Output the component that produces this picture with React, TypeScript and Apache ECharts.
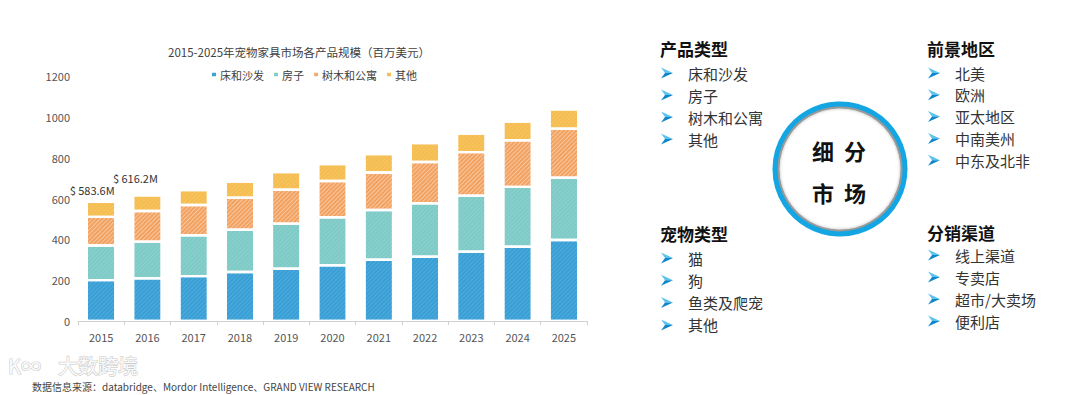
import React, { useEffect, useRef } from "react";
import * as echarts from "echarts";

const years = ["2015", "2016", "2017", "2018", "2019", "2020", "2021", "2022", "2023", "2024", "2025"];
const seriesNames = ["床和沙发", "房子", "树木和公寓", "其他"];
const bedSofa = [200, 209, 220, 240, 256, 273, 300, 315, 340, 364, 397];
const houses = [170, 180, 200, 207, 221, 235, 244, 262, 274, 293, 305];
const treesCondos = [140, 150, 148, 157, 166, 178, 183, 202, 213, 228, 240];
const others = [73.6, 77.2, 74, 79, 87, 83, 91, 93, 91, 92, 95];
const totalLabels = ["$ 583.6M", "$ 616.2M"];
const yTicks = [0, 200, 400, 600, 800, 1000, 1200];

const segmentHeads = ["产品类型", "前景地区", "宠物类型", "分销渠道"];
const productTypes = ["床和沙发", "房子", "树木和公寓", "其他"];
const regions = ["北美", "欧洲", "亚太地区", "中南美州", "中东及北非"];
const petTypes = ["猫", "狗", "鱼类及爬宠", "其他"];
const channels = ["线上渠道", "专卖店", "超市/大卖场", "便利店"];
const sourceText = "数据信息来源：databridge、Mordor Intelligence、GRAND VIEW RESEARCH";

const colors = ["#389fd6", "#7dcac6", "#f2a15f", "#f5bd4f"];
const CJK = "'Noto Sans CJK SC', 'Noto Sans', sans-serif";

function arrow(x: number, y: number) {
  return {
    type: "group",
    x,
    y,
    children: [
      { type: "polygon", shape: { points: [[0, 0], [12, 5.5], [4, 5.5]] }, style: { fill: "#5cc3ee" } },
      { type: "polygon", shape: { points: [[4, 5.5], [12, 5.5], [0, 11]] }, style: { fill: "#0f86c9" } },
    ],
  };
}

function block(head: string, items: string[], x: number, yHead: number, yFirst: number, step: number) {
  const els: any[] = [
    {
      type: "text",
      x,
      y: yHead,
      style: { text: head, font: `bold 17px ${CJK}`, fill: "#111", textVerticalAlign: "middle" },
    },
  ];
  items.forEach((t, i) => {
    const yy = yFirst + i * step;
    els.push(arrow(x + 1, yy - 5.5));
    els.push({
      type: "text",
      x: x + 28,
      y: yy,
      style: { text: t, font: `15px ${CJK}`, fill: "#333", textVerticalAlign: "middle" },
    });
  });
  return els;
}

export default function App() {
  const ref = useRef<HTMLDivElement>(null);
  useEffect(() => {
    if (!ref.current) return;
    const chart = echarts.init(ref.current, undefined, { renderer: "svg" });
    const decal = (a: number) => ({
      symbol: "rect",
      symbolSize: 1,
      dashArrayX: [1, 0],
      dashArrayY: [1, 1.5],
      rotation: -Math.PI / 4,
      color: `rgba(255,255,255,${a})`,
    });
    const dataSets = [bedSofa, houses, treesCondos, others];
    const series = dataSets.map((arr, si) => ({
      name: seriesNames[si],
      type: "bar",
      stack: "total",
      barWidth: "62%",
      itemStyle: { color: colors[si], borderColor: "#fff", borderWidth: 1.2, decal: decal(si === 2 ? 0.4 : 0.12) },
      data: arr.map((v, i) => {
        if (si === 3 && i < totalLabels.length) {
          return {
            value: v,
            label: {
              show: true,
              position: "top",
              formatter: totalLabels[i],
              offset: i === 0 ? [-9, -1] : [-12, -7],
              fontSize: 11,
              color: "#333",
              fontFamily: CJK,
            },
          };
        }
        return v;
      }),
    }));

    const graphics: any[] = [
      ...block(segmentHeads[0], productTypes, 660, 48, 73, 22),
      ...block(segmentHeads[1], regions, 927, 48, 73, 21.8),
      ...block(segmentHeads[2], petTypes, 660, 233, 258, 22.3),
      ...block(segmentHeads[3], channels, 927, 232, 255, 22),
      { type: "circle", shape: { cx: 840, cy: 169, r: 62 }, style: { fill: "none", stroke: "#9a9a9a", lineWidth: 3, shadowBlur: 3, shadowColor: "rgba(0,0,0,0.3)" } },
      { type: "circle", shape: { cx: 840, cy: 169, r: 65 }, style: { fill: "none", stroke: "#14a5e3", lineWidth: 5 } },
      { type: "text", x: 839, y: 150, style: { text: "细  分", font: `bold 22px ${CJK}`, fill: "#111", textAlign: "center", textVerticalAlign: "middle" } },
      { type: "text", x: 839, y: 192, style: { text: "市  场", font: `bold 22px ${CJK}`, fill: "#111", textAlign: "center", textVerticalAlign: "middle" } },
      { type: "text", x: 58, y: 365, style: { text: "大数跨境", font: `20px ${CJK}`, fill: "rgba(255,255,255,0.9)", stroke: "rgba(170,170,170,0.6)", lineWidth: 1.2, textVerticalAlign: "middle" } },
      { type: "text", x: 8, y: 365, style: { text: "K∞", font: `20px ${CJK}`, fill: "rgba(255,255,255,0.9)", stroke: "rgba(170,170,170,0.6)", lineWidth: 1.2, textVerticalAlign: "middle" } },
      { type: "text", x: 32, y: 386, style: { text: sourceText, font: `10px ${CJK}`, fill: "#444", textVerticalAlign: "middle" } },
    ];

    chart.setOption({
      animation: false,
      title: {
        text: "2015-2025年宠物家具市场各产品规模（百万美元）",
        left: 163,
        top: 41,
        textStyle: { fontSize: 11.5, fontWeight: "normal", color: "#404040", fontFamily: CJK },
      },
      legend: {
        data: seriesNames,
        left: 205,
        top: 64,
        icon: "rect",
        itemWidth: 6,
        itemHeight: 6,
        itemGap: 8,
        textStyle: { fontSize: 11, color: "#404040", fontFamily: CJK, padding: [0, 0, 0, -2] },
      },
      grid: { left: 78, right: 493, top: 76, bottom: 74, containLabel: false },
      xAxis: {
        type: "category",
        data: years,
        axisLine: { lineStyle: { color: "#d0d0d0" } },
        axisTick: { show: true, length: 4, lineStyle: { color: "#d0d0d0" } },
        axisLabel: { fontSize: 11, color: "#555", margin: 10, fontFamily: CJK },
      },
      yAxis: {
        type: "value",
        min: yTicks[0],
        max: yTicks[yTicks.length - 1],
        interval: 200,
        axisLine: { show: false },
        axisTick: { show: false },
        splitLine: { show: false },
        axisLabel: { fontSize: 11, color: "#555", margin: 8, fontFamily: CJK, formatter: (v: number) => String(v) },
      },
      series,
      graphic: graphics,
    });
    return () => chart.dispose();
  }, []);
  return <div ref={ref} style={{ position: "fixed", left: 0, top: 0, width: 1080, height: 395, background: "#fff" }} />;
}
